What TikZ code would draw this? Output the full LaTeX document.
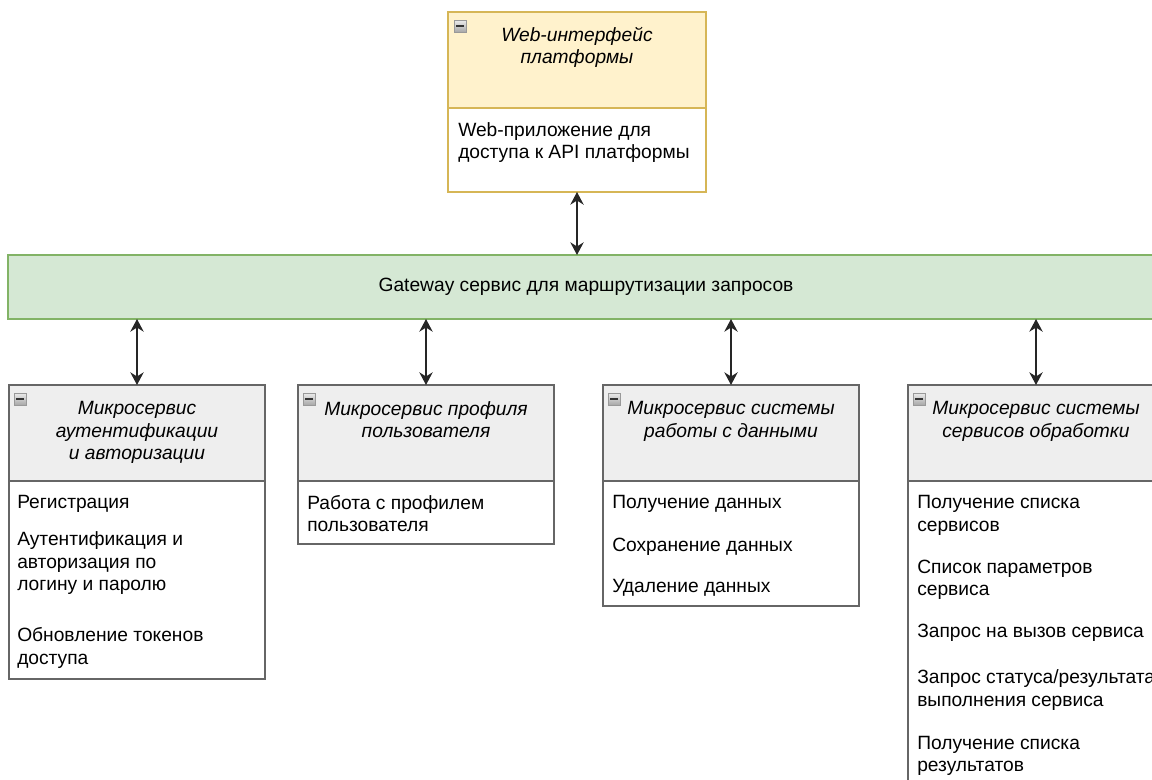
\documentclass[tikz,border=0pt]{standalone}
\usepackage{fontspec}
\setmainfont{Liberation Sans}
\usetikzlibrary{arrows.meta,positioning}
\definecolor{hdrgray}{HTML}{EEEEEE}
\definecolor{boxstroke}{HTML}{666666}
\definecolor{webfill}{HTML}{FFF2CC}
\definecolor{webstroke}{HTML}{D6B656}
\definecolor{gwfill}{HTML}{D5E8D4}
\definecolor{gwstroke}{HTML}{82B366}
\tikzset{
    every node/.append style={font=\fontsize{14.4}{16.9}\selectfont},
    header/.style={draw=boxstroke, fill=hdrgray, line width=1.1pt, minimum width=192pt,
        minimum height=72pt, inner sep=0pt, outer sep=0pt, anchor=north west},
    listbox/.style={draw=boxstroke, fill=white, line width=1.1pt, minimum width=192pt,
        inner sep=0pt, outer sep=0pt, below=0pt of #1},
    headtext/.style={font=\fontsize{14.4}{16.9}\selectfont\itshape, align=center,
        anchor=north, inner sep=0pt},
    itemtext/.style={align=left, anchor=north west, inner sep=0pt},
    fold/.style={minimum size=9pt, inner sep=0pt, draw=black!40, top color=black!8,
        bottom color=black!35, anchor=north west,
        path picture={\draw[black!80, line width=1.4pt]
            ([xshift=1.6pt]path picture bounding box.west) --
            ([xshift=-1.6pt]path picture bounding box.east);}},
    link/.style={{Stealth[length=9.5pt,width=10pt]}-{Stealth[length=9.5pt,width=10pt]},
        line width=1.3pt, black!85}
}

\begin{document}
\begin{tikzpicture}[x=0.75pt, y=-0.75pt]
    \useasboundingbox (0,0) rectangle (1152,780);
    \clip (0,0) rectangle (1152,780);

    % web interface
    \node[header, draw=webstroke, fill=webfill, minimum width=193.5pt] (web-h) at (448,12) {};
    \node[listbox=web-h, draw=webstroke, minimum width=193.5pt, minimum height=63pt] (web-b) {};
    \node[fold] at ([shift={(6,8)}]web-h.north west) {};
    \node[headtext] at ([yshift=-11]web-h.north) {Web-интерфейс\\платформы};
    \node[itemtext] at ([shift={(10,14)}]web-b.north west)
        {Web-приложение для\\доступа к API платформы};

    % gateway
    \node[draw=gwstroke, fill=gwfill, line width=1.1pt, minimum width=867pt,
        minimum height=48pt, inner sep=0pt, outer sep=0pt, anchor=north west] (gw) at (8,255)
        {Gateway сервис для маршрутизации запросов};

    % microservices
    \node[header] (auth-h) at (9,385) {};
    \node[listbox=auth-h, minimum height=148.5pt] (auth-b) {};
    \node[header] (prof-h) at (298,385) {};
    \node[listbox=prof-h, minimum height=47.25pt] (prof-b) {};
    \node[header] (data-h) at (603,385) {};
    \node[listbox=data-h, minimum height=93.75pt] (data-b) {};
    \node[header] (proc-h) at (908,385) {};
    \node[listbox=proc-h, minimum height=240pt] (proc-b) {};

    \foreach \s in {auth,prof,data,proc}
        \node[fold] at ([shift={(5,8)}]\s-h.north west) {};

    \node[headtext] at ([yshift=-12]auth-h.north) {Микросервис\\аутентификации\\и авторизации};
    \node[headtext] at ([yshift=-12]prof-h.north) {Микросервис профиля\\пользователя};
    \node[headtext] at ([yshift=-12]data-h.north) {Микросервис системы\\работы с данными};
    \node[headtext] at ([yshift=-12]proc-h.north) {Микросервис системы\\сервисов обработки};

    \node[itemtext] at ([shift={(8,14)}]auth-b.north west)
        {Регистрация\\[10.9pt]Аутентификация и\\авторизация по\\логину и паролю\\[21.4pt]Обновление токенов\\доступа};
    \node[itemtext] at ([shift={(9,14)}]prof-b.north west)
        {Работа с профилем\\пользователя};
    \node[itemtext] at ([shift={(9,14)}]data-b.north west)
        {Получение данных\\[15.4pt]Сохранение данных\\[13.9pt]Удаление данных};
    \node[itemtext] at ([shift={(9,14)}]proc-b.north west)
        {Получение списка\\сервисов\\[14.6pt]Список параметров\\сервиса\\[14.6pt]Запрос на вызов сервиса\\[17.6pt]Запрос статуса/результата\\выполнения сервиса\\[15.4pt]Получение списка\\результатов};

    % connectors
    \draw[link] (web-b.south) -- (web-b.south |- gw.north);
    \foreach \s in {auth,prof,data,proc}
        \draw[link] (\s-h.north |- gw.south) -- (\s-h.north);
\end{tikzpicture}
\end{document}
